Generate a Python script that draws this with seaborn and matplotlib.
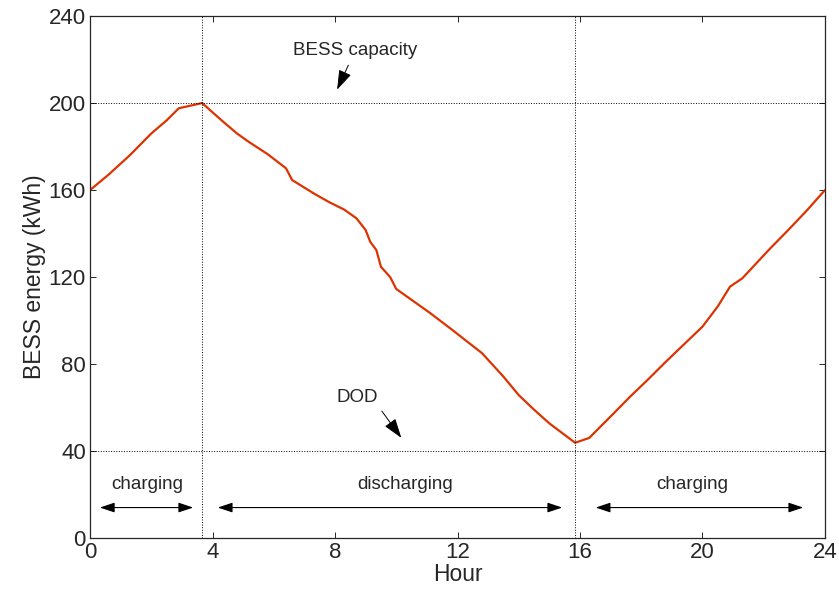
import matplotlib
matplotlib.use("Agg")
import matplotlib.pyplot as plt
import seaborn as sns
import pandas as pd

# BESS energy over the day
hours = [0, 0.6, 1.3, 2.0, 2.5, 2.9, 3.66, 4.3, 4.8, 5.2, 5.8, 6.4, 6.6, 7.3,
         7.8, 8.3, 8.7, 9.0, 9.15, 9.35, 9.5, 9.8, 10.0, 10.5, 11.1, 11.8,
         12.3, 12.8, 13.5, 14.0, 14.5, 15.0, 15.84, 16.3, 17.1, 17.6, 18.2,
         18.8, 19.2, 20.0, 20.5, 20.9, 21.3, 22.2, 22.8, 23.4, 24]
energy = [160, 167, 176, 186, 192, 197.6, 200, 192, 186, 182, 176.5, 170,
          164.6, 158.5, 154.5, 151, 147, 141.6, 136.2, 132.4, 124.7, 120,
          114.5, 109.5, 103.5, 96, 90.5, 85, 74.2, 65.7, 59, 52.7, 43.8, 46,
          57.3, 64.5, 72.6, 81, 86.4, 97.2, 106.5, 115.6, 119.4, 133, 141.6,
          150.5, 160]

capacity = 200
dod = 40
switch_hours = [3.66, 15.84]
x_ticks = [0, 4, 8, 12, 16, 20, 24]
y_ticks = [0, 40, 80, 120, 160, 200, 240]

df = pd.DataFrame({"hour": hours, "energy": energy})

sns.set_style("ticks")
plt.rcParams["font.family"] = ["Liberation Sans Narrow", "Liberation Sans", "DejaVu Sans"]

fig = plt.figure(figsize=(8.39, 5.95), dpi=100)
ax = fig.add_axes([0.1073, 0.0958, 0.876, 0.8772])

sns.lineplot(data=df, x="hour", y="energy", ax=ax, color="#DD3300", linewidth=1.6)

# reference lines
ax.axhline(capacity, color="black", linestyle=":", linewidth=0.7)
ax.axhline(dod, color="black", linestyle=":", linewidth=0.7)
for h in switch_hours:
    ax.axvline(h, color="black", linestyle=":", linewidth=0.7)

ax.set_xlim(0, 24)
ax.set_ylim(0, 240)
ax.set_xticks(x_ticks)
ax.set_yticks(y_ticks)
ax.tick_params(direction="in", top=True, right=True, length=4, labelsize=16,
               width=0.7, pad=3)
for s in ax.spines.values():
    s.set_linewidth(0.9)
    s.set_visible(True)
ax.set_xlabel("Hour", fontsize=16.5, labelpad=0)
ax.set_ylabel("BESS energy (kWh)", fontsize=16.5, labelpad=2)

head = dict(arrowstyle="-|>,head_length=0.9,head_width=0.3", color="black", lw=0.7)
ax.annotate("BESS capacity", xy=(8.03, 205), xytext=(8.65, 224), fontsize=13.5,
            ha="center", va="center", arrowprops=head)
ax.annotate("DOD", xy=(10.22, 45), xytext=(8.72, 64.8), fontsize=13.5,
            ha="center", va="center",
            arrowprops=dict(head, relpos=(1.0, 0.0)))

dbl = dict(arrowstyle="<|-|>,head_length=0.9,head_width=0.3", color="black", lw=0.8)
phases = [("charging", 0.23, 3.46, 1.86), ("discharging", 4.08, 15.51, 10.29),
          ("charging", 16.42, 23.38, 19.66)]
for label, x0, x1, xt in phases:
    ax.annotate("", xy=(x0, 14), xytext=(x1, 14), arrowprops=dbl)
    ax.text(xt, 24.5, label, fontsize=13.5, ha="center", va="center")

fig.savefig("out.png", dpi=100)
